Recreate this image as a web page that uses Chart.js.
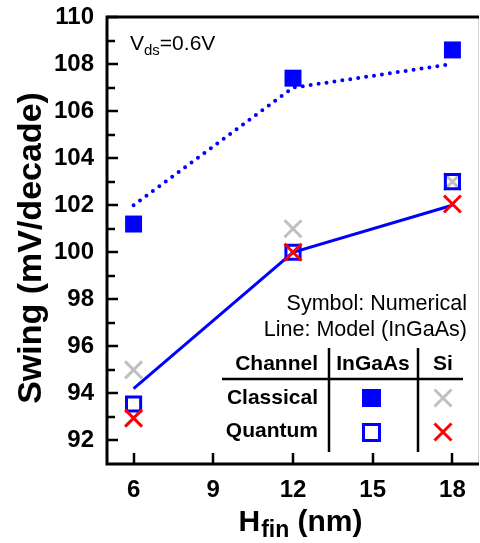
<!DOCTYPE html>
<html>
<head>
<meta charset="utf-8">
<script src="https://cdn.jsdelivr.net/npm/chart.js@4.4.0/dist/chart.umd.min.js"></script>
<style>
  html, body { margin: 0; padding: 0; background: #fff; }
  #wrap { width: 480px; height: 543px; }
</style>
</head>
<body>
<div id="wrap"><canvas id="swingChart" width="480" height="543"></canvas></div>
<script>
// Fin height (nm) and subthreshold swing (mV/decade)
const hfin = [6, 12, 18];
const classicalInGaAs = [101.2, 107.4, 108.6];
const quantumInGaAs = [93.55, 100.0, 103.0];
const classicalSi = [95.0, 101.0, 103.0];
const quantumSi = [92.95, 100.0, 102.05];
const modelClassical = [102.0, 107.0, 108.0];
const modelQuantum = [94.2, 100.0, 102.0];

const xTicks = [6, 9, 12, 15, 18];
const yTicks = [92, 94, 96, 98, 100, 102, 104, 106, 108, 110];
const yMinorTicks = [93, 95, 97, 99, 101, 103, 105, 107, 109];

const BLUE = '#0000ff';
const GRAY = '#c0c0c0';
const RED = '#ff0000';
const FONT = '"Liberation Sans", Arial, sans-serif';

const pts = ys => hfin.map((x, i) => ({ x: x, y: ys[i] }));

// Axes frame, inward ticks, titles and the little table legend
const decorations = {
    id: 'decorations',
    afterDraw(chart) {
        const ctx = chart.ctx;
        const a = chart.chartArea;
        const xs = chart.scales.x;
        const ys = chart.scales.y;
        ctx.save();

        // right border (light) then black left / bottom / top
        ctx.strokeStyle = '#d0d0d0';
        ctx.lineWidth = 1;
        ctx.beginPath();
        ctx.moveTo(a.right - 0.5, a.top);
        ctx.lineTo(a.right - 0.5, a.bottom);
        ctx.stroke();

        ctx.strokeStyle = '#000';
        ctx.lineWidth = 3;
        ctx.beginPath();
        ctx.moveTo(a.left, a.top);
        ctx.lineTo(a.right, a.top);
        ctx.moveTo(a.left, a.top - 1.5);
        ctx.lineTo(a.left, a.bottom + 1.5);
        ctx.moveTo(a.left - 1.5, a.bottom);
        ctx.lineTo(a.right, a.bottom);
        ctx.stroke();

        // inward ticks
        ctx.lineWidth = 2.5;
        ctx.beginPath();
        xTicks.forEach(v => {
            const px = Math.round(xs.getPixelForValue(v));
            ctx.moveTo(px, a.bottom);
            ctx.lineTo(px, a.bottom - 11);
        });
        yTicks.forEach(v => {
            const py = Math.round(ys.getPixelForValue(v));
            ctx.moveTo(a.left, py);
            ctx.lineTo(a.left + 11, py);
        });
        yMinorTicks.forEach(v => {
            const py = Math.round(ys.getPixelForValue(v));
            ctx.moveTo(a.left, py);
            ctx.lineTo(a.left + 8, py);
        });
        ctx.stroke();

        ctx.fillStyle = '#000';

        // y title
        ctx.save();
        ctx.translate(41, 248);
        ctx.rotate(-Math.PI / 2);
        ctx.font = 'bold 34px ' + FONT;
        ctx.textAlign = 'center';
        ctx.textBaseline = 'alphabetic';
        ctx.fillText('Swing (mV/decade)', 0, 0);
        ctx.restore();

        // x title with subscript
        ctx.textAlign = 'left';
        ctx.textBaseline = 'alphabetic';
        const big = 'bold 30px ' + FONT;
        const sub = 'bold 23px ' + FONT;
        ctx.font = big;
        const wH = ctx.measureText('H').width;
        const wRest = ctx.measureText(' (nm)').width;
        ctx.font = sub;
        const wSub = ctx.measureText('fin').width;
        let tx = 300 - (wH + wSub + wRest) / 2;
        ctx.font = big;
        ctx.fillText('H', tx, 531);
        tx += wH + 1;
        ctx.font = sub;
        ctx.fillText('fin', tx, 537);
        tx += wSub;
        ctx.font = big;
        ctx.fillText(' (nm)', tx, 531);

        // Vds note
        let vx = 130;
        ctx.font = '21px ' + FONT;
        ctx.fillText('V', vx, 50);
        vx += ctx.measureText('V').width;
        ctx.font = '15px ' + FONT;
        ctx.fillText('ds', vx, 55);
        vx += ctx.measureText('ds').width;
        ctx.font = '21px ' + FONT;
        ctx.fillText('=0.6V', vx, 50);

        // notes
        ctx.textAlign = 'right';
        ctx.font = '21.5px ' + FONT;
        ctx.fillText('Symbol: Numerical', 467, 310);
        ctx.fillText('Line: Model (InGaAs)', 467, 336);

        // table
        ctx.font = 'bold 21px ' + FONT;
        ctx.fillText('Channel', 318, 370);
        ctx.fillText('Classical', 318, 404);
        ctx.fillText('Quantum', 318, 437);
        ctx.textAlign = 'center';
        ctx.fillText('InGaAs', 373, 370);
        ctx.fillText('Si', 443, 370);

        ctx.lineWidth = 2.5;
        ctx.beginPath();
        ctx.moveTo(222, 379);
        ctx.lineTo(463, 379);
        ctx.moveTo(329, 348);
        ctx.lineTo(329, 452);
        ctx.moveTo(418, 348);
        ctx.lineTo(418, 452);
        ctx.stroke();

        // table symbols
        ctx.fillStyle = BLUE;
        ctx.fillRect(362, 389, 19, 18);
        ctx.strokeStyle = BLUE;
        ctx.lineWidth = 3;
        ctx.strokeRect(363.5, 424.5, 16, 16);

        const cross = (cx, cy, color) => {
            ctx.strokeStyle = color;
            ctx.lineWidth = 3;
            ctx.beginPath();
            ctx.moveTo(cx - 8.5, cy - 8.5);
            ctx.lineTo(cx + 8.5, cy + 8.5);
            ctx.moveTo(cx + 8.5, cy - 8.5);
            ctx.lineTo(cx - 8.5, cy + 8.5);
            ctx.stroke();
        };
        cross(443, 398, GRAY);
        cross(443, 432, RED);

        ctx.restore();
    }
};

new Chart(document.getElementById('swingChart'), {
    type: 'scatter',
    data: {
        datasets: [
            {
                label: 'Quantum Si',
                data: pts(quantumSi),
                pointStyle: 'crossRot',
                pointRadius: 12,
                pointBorderWidth: 3,
                borderColor: RED,
                backgroundColor: RED
            },
            {
                label: 'Classical InGaAs',
                data: pts(classicalInGaAs),
                pointStyle: 'rect',
                pointRadius: 12,
                pointBorderWidth: 0,
                borderColor: BLUE,
                backgroundColor: BLUE
            },
            {
                label: 'Quantum InGaAs',
                data: pts(quantumInGaAs),
                pointStyle: 'rect',
                pointRadius: 10,
                pointBorderWidth: 3,
                borderColor: BLUE,
                backgroundColor: 'rgba(0,0,0,0)'
            },
            {
                label: 'Classical Si',
                data: pts(classicalSi),
                pointStyle: 'crossRot',
                pointRadius: 12,
                pointBorderWidth: 3,
                borderColor: GRAY,
                backgroundColor: GRAY
            },
            {
                label: 'Model classical',
                data: pts(modelClassical),
                showLine: true,
                pointRadius: 0,
                borderColor: BLUE,
                borderWidth: 4,
                borderCapStyle: 'round',
                borderDash: [0, 8],
                tension: 0
            },
            {
                label: 'Model quantum',
                data: pts(modelQuantum),
                showLine: true,
                pointRadius: 0,
                borderColor: BLUE,
                borderWidth: 3,
                tension: 0
            }
        ]
    },
    options: {
        responsive: false,
        animation: false,
        events: [],
        layout: { autoPadding: false, padding: { top: 17, right: 1, left: 0, bottom: 0 } },
        plugins: {
            legend: { display: false },
            tooltip: { enabled: false }
        },
        scales: {
            x: {
                type: 'linear',
                min: 5,
                max: 19,
                afterBuildTicks: scale => { scale.ticks = xTicks.map(v => ({ value: v })); },
                afterFit: scale => {
                    scale.height = 79;
                    scale.paddingLeft = 0;
                    scale.paddingRight = 0;
                },
                grid: { display: false, drawTicks: false },
                border: { display: false },
                ticks: {
                    padding: 12,
                    color: '#000',
                    font: { family: FONT, size: 24, weight: 'bold' }
                }
            },
            y: {
                type: 'linear',
                min: 91,
                max: 110,
                afterBuildTicks: scale => { scale.ticks = yTicks.map(v => ({ value: v })); },
                afterFit: scale => {
                    scale.width = 107;
                    scale.paddingTop = 0;
                    scale.paddingBottom = 0;
                },
                grid: { display: false, drawTicks: false },
                border: { display: false },
                ticks: {
                    padding: 13,
                    color: '#000',
                    font: { family: FONT, size: 24, weight: 'bold' }
                }
            }
        }
    },
    plugins: [decorations]
});
</script>
</body>
</html>
